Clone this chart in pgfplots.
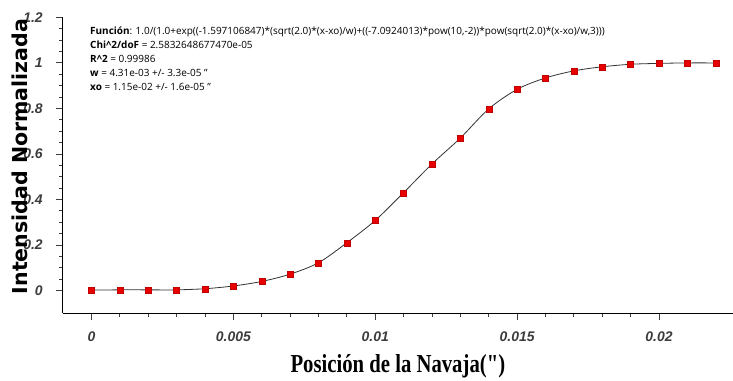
\documentclass[border=0pt]{standalone}
\usepackage{fontspec}
\usepackage{graphicx}
\usepackage{pgfplots}
\pgfplotsset{compat=1.18}
\setmainfont{Open Sans}
\newfontfamily\tickfont{Liberation Sans}
\newfontfamily\ylabfont{DejaVu Sans}
\newfontfamily\xlabfont{Liberation Serif}
\definecolor{tickgray}{HTML}{3C3C3C}
\definecolor{markred}{HTML}{E60000}

% normalized knife-edge intensity vs. knife position
\pgfplotstableread{
x      y
0.000  0.002
0.001  0.003
0.002  0.003
0.003  0.003
0.004  0.008
0.005  0.020
0.006  0.040
0.007  0.072
0.008  0.122
0.009  0.210
0.010  0.308
0.011  0.430
0.012  0.556
0.013  0.670
0.014  0.798
0.015  0.884
0.016  0.934
0.017  0.965
0.018  0.983
0.019  0.994
0.020  0.998
0.021  1.000
0.022  1.000
}\knifedata

\begin{document}
\begin{tikzpicture}
\useasboundingbox (0,0) rectangle (733bp,381bp);
\begin{axis}[
  at={(62.7bp,67.7bp)}, anchor=south west,
  scale only axis, width=670.3bp, height=295.9bp,
  xmin=-0.001015, xmax=0.02261, ymin=-0.1, ymax=1.2,
  axis lines=left, axis line style={-, line width=1.2bp, black},
  clip=false,
  xtick={0,0.005,0.01,0.015,0.02},
  ytick={0,0.2,0.4,0.6,0.8,1,1.2},
  minor x tick num=4, minor y tick num=3,
  tick align=outside,
  major tick length=6.5bp, minor tick length=3.5bp,
  tick style={tickgray, line width=0.9bp},
  scaled x ticks=false, scaled y ticks=false,
  /pgf/number format/assume math mode=true,
  xticklabel style={/pgf/number format/fixed, /pgf/number format/precision=3,
    font=\fontsize{14}{14}\tickfont\bfseries\itshape, text=tickgray, yshift=-8bp},
  yticklabel style={/pgf/number format/fixed, /pgf/number format/precision=2,
    font=\fontsize{14}{14}\tickfont\bfseries\itshape, text=tickgray, xshift=-10bp},
  xlabel={\scalebox{0.8}[1]{\fontsize{26}{26}\xlabfont\bfseries Posición de la Navaja(")}},
  xlabel style={at={(axis description cs:0.5,0)}, anchor=north, yshift=-38bp},
  ylabel={\fontsize{20.6}{20.6}\ylabfont\bfseries Intensidad Normalizada},
  ylabel style={at={(axis description cs:-0.0637,0.53)}, anchor=center},
]
\addplot[black!80, line width=0.8bp, smooth, tension=0.5] table[x=x, y=y] {\knifedata};
\addplot[only marks, mark=square*, mark size=3bp, markred, mark options={draw=markred!85!black, line width=0.3bp}] table[x=x, y=y] {\knifedata};
\end{axis}
\node[anchor=north west, align=left, inner sep=0pt, font=\fontsize{10}{14}\selectfont] at (90bp,354bp) {%
\textbf{Función}: 1.0/(1.0+exp((-1.597106847)*(sqrt(2.0)*(x-xo)/w)+((-7.0924013)*pow(10,-2))*pow(sqrt(2.0)*(x-xo)/w,3)))\\
\textbf{Chi\^{}2/doF} = 2.5832648677470e-05\\
\textbf{R\^{}2} = 0.99986\\
\textbf{w} = 4.31e-03 +/- 3.3e-05 "\\
\textbf{xo} = 1.15e-02 +/- 1.6e-05 "};
\end{tikzpicture}
\end{document}
